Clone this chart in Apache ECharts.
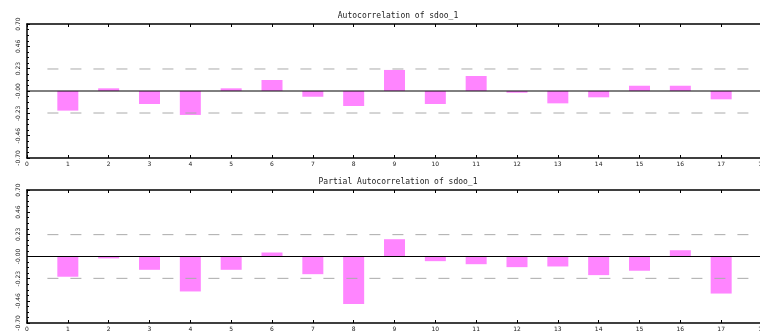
<!DOCTYPE html>
<html>
<head>
<meta charset="utf-8">
<script src="https://cdn.jsdelivr.net/npm/echarts@6/dist/echarts.min.js"></script>
<style>
  html, body { margin: 0; padding: 0; background: #fff; }
  #chart { width: 760px; height: 331px; }
</style>
</head>
<body>
<div id="chart"></div>
<script>
// Lags 1..17 and the correlation estimates for series sdoo_1
const lags = [1, 2, 3, 4, 5, 6, 7, 8, 9, 10, 11, 12, 13, 14, 15, 16, 17];
const acfValues = [-0.205, 0.028, -0.136, -0.25, 0.028, 0.115, -0.06, -0.157, 0.22, -0.136, 0.157, -0.018, -0.129, -0.066, 0.055, 0.055, -0.087];
const pacfValues = [-0.213, -0.02, -0.14, -0.368, -0.14, 0.042, -0.186, -0.50, 0.182, -0.049, -0.081, -0.112, -0.105, -0.196, -0.15, 0.066, -0.39];
const confBound = 0.23;
const yTickLabels = ['-0.70', '-0.46', '-0.23', '-0.00', '0.23', '0.46', '0.70'];
const titles = ['Autocorrelation of sdoo_1', 'Partial Autocorrelation of sdoo_1'];

const yStep = 0.7 / 3;
const titleFont = '"DejaVu Sans Mono", monospace';
const labelFont = '"DejaVu Sans", sans-serif';
const ink = '#222';
const barColor = '#ff85ff';

const panels = [
  { top: 24, height: 134, values: acfValues },
  { top: 190, height: 133, values: pacfValues }
];

const chart = echarts.init(document.getElementById('chart'), null, { renderer: 'canvas' });

const grid = [], xAxis = [], yAxis = [], series = [], title = [];

panels.forEach((p, i) => {
  // the plot area runs past the right edge of the window
  grid.push({
    left: 27, width: 735, top: p.top, height: p.height,
    containLabel: false, outerBoundsMode: 'none'
  });
  title.push({
    text: titles[i],
    left: 393, top: p.top - 17, textAlign: 'center',
    textStyle: { fontFamily: titleFont, fontSize: 8, fontWeight: 'normal', color: ink }
  });
  // bottom axis with lag labels
  xAxis.push({
    type: 'value', gridIndex: i, min: 0, max: 18, interval: 1, position: 'bottom',
    axisLine: { onZero: false, lineStyle: { color: '#000', width: 1.5 } },
    axisTick: { inside: true, length: 3, lineStyle: { color: '#000' } },
    axisLabel: { fontFamily: labelFont, fontSize: 6, color: ink, margin: 3 },
    splitLine: { show: false }
  });
  // top border with tick marks
  xAxis.push({
    type: 'value', gridIndex: i, min: 0, max: 18, interval: 1, position: 'top',
    axisLine: { onZero: false, lineStyle: { color: '#000', width: 1.5 } },
    axisTick: { inside: true, length: 3, lineStyle: { color: '#000' } },
    axisLabel: { show: false },
    splitLine: { show: false }
  });
  yAxis.push({
    type: 'value', gridIndex: i, min: -0.7, max: 0.7, interval: yStep,
    axisLine: { show: true, lineStyle: { color: '#000', width: 1.5 } },
    axisTick: { show: true, inside: true, length: 3, lineStyle: { color: '#000' } },
    minorTick: { show: true, splitNumber: 4, length: 2, lineStyle: { color: '#000' } },
    axisLabel: {
      rotate: 90, fontFamily: labelFont, fontSize: 6, color: ink, margin: 6,
      formatter: v => yTickLabels[Math.round(v / yStep) + 3]
    },
    splitLine: { show: false }
  });

  const xa = i * 2;
  series.push({
    type: 'bar', xAxisIndex: xa, yAxisIndex: i, barWidth: 21,
    itemStyle: { color: barColor },
    data: lags.map((l, k) => [l, p.values[k]]),
    z: 2
  });
  // confidence bounds
  [confBound, -confBound].forEach(b => {
    series.push({
      type: 'line', xAxisIndex: xa, yAxisIndex: i, symbol: 'none', silent: true,
      lineStyle: { color: '#aaa', width: 1, type: [11, 12] },
      data: [[0.5, b], [18, b]], z: 3
    });
  });
  // zero reference line
  series.push({
    type: 'line', xAxisIndex: xa, yAxisIndex: i, symbol: 'none', silent: true,
    lineStyle: { color: '#000', width: 1 },
    data: [[0, 0], [18, 0]], z: 4
  });
});

chart.setOption({
  animation: false,
  backgroundColor: '#fff',
  title, grid, xAxis, yAxis, series
});
</script>
</body>
</html>
